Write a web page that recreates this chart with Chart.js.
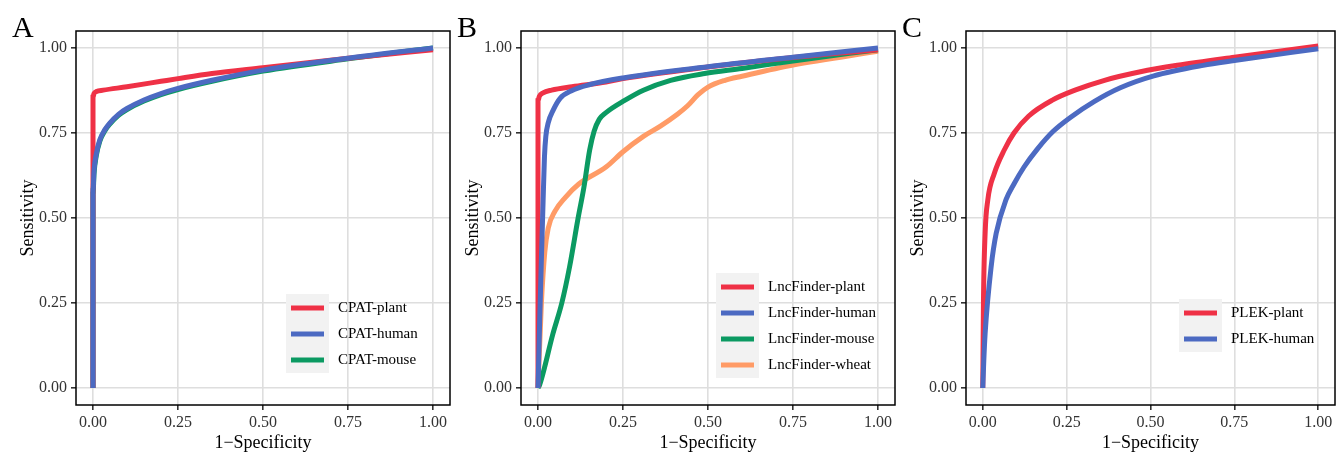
<!DOCTYPE html>
<html>
<head>
<meta charset="utf-8">
<script src="https://cdn.jsdelivr.net/npm/chart.js@4"></script>
<style>
  html, body { margin: 0; padding: 0; background: #fff; overflow: hidden; }
  .panel { position: absolute; top: 0; }
</style>
</head>
<body>
<div class="panel" style="left:0px"><canvas id="chartA" width="455" height="454"></canvas></div>
<div class="panel" style="left:445px"><canvas id="chartB" width="455" height="454"></canvas></div>
<div class="panel" style="left:890px"><canvas id="chartC" width="446" height="454"></canvas></div>
<script>
// tick labels shared by both axes of every panel
const tickValues = [0, 0.25, 0.5, 0.75, 1];
const xTitle = '1\u2212Specificity';
const yTitle = 'Sensitivity';

// colours
const RED = '#EF3146';
const BLUE = '#4C6AC2';
const GREEN = '#0B9A62';
const ORANGE = '#FF9B66';

// panel A - CPAT  (1-specificity, sensitivity)
const cpatPlantFpr = [0, 0, 0, 0.003, 0.01, 0.03, 0.1, 0.2, 0.25, 0.35, 0.5, 0.75, 1];
const cpatPlantTpr = [0, 0.6, 0.855, 0.866, 0.872, 0.876, 0.886, 0.902, 0.91, 0.925, 0.942, 0.97, 0.995];
const cpatHumanFpr = [0, 0, 0.003, 0.01, 0.02, 0.035, 0.05, 0.075, 0.1, 0.15, 0.2, 0.25, 0.35, 0.5, 0.75, 1];
const cpatHumanTpr = [0, 0.58, 0.64, 0.69, 0.73, 0.76, 0.78, 0.805, 0.822, 0.847, 0.866, 0.881, 0.905, 0.935, 0.97, 1.0];
const cpatMouseFpr = [0, 0, 0.003, 0.01, 0.02, 0.035, 0.05, 0.075, 0.1, 0.15, 0.2, 0.25, 0.35, 0.5, 0.75, 1];
const cpatMouseTpr = [0, 0.57, 0.63, 0.685, 0.726, 0.757, 0.777, 0.802, 0.819, 0.844, 0.863, 0.878, 0.902, 0.932, 0.968, 1.0];

// panel B - LncFinder
const lncPlantFpr = [0, 0, 0, 0.004, 0.015, 0.04, 0.1, 0.2, 0.25, 0.5, 0.75, 1];
const lncPlantTpr = [0, 0.5, 0.845, 0.858, 0.868, 0.876, 0.886, 0.9, 0.91, 0.944, 0.972, 0.995];
const lncHumanFpr = [0, 0.005, 0.01, 0.015, 0.019, 0.023, 0.03, 0.045, 0.065, 0.1, 0.15, 0.25, 0.5, 0.75, 1];
const lncHumanTpr = [0, 0.2, 0.38, 0.55, 0.68, 0.74, 0.78, 0.818, 0.852, 0.875, 0.892, 0.912, 0.945, 0.973, 1.0];
const lncMouseFpr = [0, 0.005, 0.044, 0.07, 0.093, 0.118, 0.135, 0.152, 0.165, 0.18, 0.2, 0.255, 0.31, 0.39, 0.49, 0.6, 0.75, 1];
const lncMouseTpr = [0, 0.01, 0.16, 0.25, 0.357, 0.5, 0.59, 0.7, 0.755, 0.79, 0.81, 0.846, 0.876, 0.905, 0.925, 0.94, 0.962, 0.995];
const lncWheatFpr = [0, 0.01, 0.02, 0.03, 0.05, 0.08, 0.12, 0.2, 0.25, 0.31, 0.36, 0.41, 0.44, 0.47, 0.5, 0.55, 0.6, 0.75, 1];
const lncWheatTpr = [0, 0.25, 0.4, 0.47, 0.52, 0.56, 0.6, 0.65, 0.695, 0.74, 0.77, 0.805, 0.83, 0.862, 0.885, 0.905, 0.917, 0.95, 0.99];

// panel C - PLEK
const plekPlantFpr = [0, 0.002, 0.007, 0.015, 0.034, 0.064, 0.093, 0.137, 0.206, 0.275, 0.363, 0.47, 0.58, 0.75, 1];
const plekPlantTpr = [0, 0.25, 0.455, 0.553, 0.63, 0.7, 0.75, 0.8, 0.846, 0.876, 0.905, 0.93, 0.949, 0.973, 1.006];
const plekHumanFpr = [0, 0.003, 0.007, 0.025, 0.04, 0.069, 0.093, 0.123, 0.162, 0.21, 0.26, 0.333, 0.41, 0.51, 0.657, 0.75, 1];
const plekHumanTpr = [0, 0.08, 0.16, 0.357, 0.455, 0.553, 0.6, 0.65, 0.702, 0.755, 0.795, 0.843, 0.883, 0.918, 0.949, 0.963, 0.998];

function toPoints(xs, ys) {
    return xs.map((x, i) => ({ x: x, y: ys[i] }));
}

// frame around the plot area + panel letter + ggplot-like legend
const panelDeco = {
    id: 'panelDeco',
    afterDatasetsDraw(chart, args, opts) {
        const ctx = chart.ctx;
        const a = chart.chartArea;
        ctx.save();
        // legend
        const items = opts.items;
        const lx = a.left + opts.legendX;
        const ly = a.top + opts.legendY;
        const gap = 26;
        ctx.fillStyle = '#F2F2F2';
        ctx.fillRect(lx - 5, ly - 14, 43, (items.length - 1) * gap + 27);
        items.forEach((it, i) => {
            const y = ly + i * gap;
            ctx.strokeStyle = it.color;
            ctx.lineWidth = 5;
            ctx.beginPath();
            ctx.moveTo(lx, y);
            ctx.lineTo(lx + 33, y);
            ctx.stroke();
            ctx.fillStyle = '#000';
            ctx.font = '15px "Liberation Serif", "Times New Roman", serif';
            ctx.textBaseline = 'middle';
            ctx.textAlign = 'left';
            ctx.fillText(it.label, lx + 47, y);
        });
        // frame
        ctx.strokeStyle = '#000';
        ctx.lineWidth = 1.5;
        ctx.strokeRect(a.left, a.top, a.right - a.left, a.bottom - a.top);
        // panel letter
        ctx.fillStyle = '#000';
        ctx.font = '30px "Liberation Serif", "Times New Roman", serif';
        ctx.textBaseline = 'alphabetic';
        ctx.fillText(opts.tag, 12, 37);
        ctx.restore();
    }
};

function makeAxis(title, isX) {
    return {
        type: 'linear',
        min: -0.05,
        max: 1.05,
        afterBuildTicks: axis => { axis.ticks = tickValues.map(v => ({ value: v })); },
        afterFit: axis => {
            if (isX) axis.height = 49; else axis.width = 76;
        },
        grid: {
            color: '#DEDEDE',
            lineWidth: 1.6,
            tickColor: '#333',
            tickLength: 5,
            drawTicks: true
        },
        border: { display: false },
        ticks: {
            color: '#333',
            padding: isX ? 3 : 4,
            font: { family: '"Liberation Serif", "Times New Roman", serif', size: 16 },
            callback: v => v.toFixed(2)
        },
        title: {
            display: true,
            text: title,
            color: '#000',
            font: { family: '"Liberation Serif", "Times New Roman", serif', size: 18 },
            padding: isX ? { top: 0, bottom: 0 } : { top: 17, bottom: 0 }
        }
    };
}

function generateChart(id, tag, datasets, legendX, legendY, padRight) {
    const ctx = document.getElementById(id).getContext('2d');
    return new Chart(ctx, {
        type: 'line',
        data: {
            datasets: datasets.map(d => ({
                label: d.label,
                data: d.data,
                borderColor: d.color,
                backgroundColor: d.color,
                borderWidth: 5,
                pointRadius: 0,
                cubicInterpolationMode: 'monotone',
                borderCapStyle: 'butt',
                order: d.order
            }))
        },
        options: {
            responsive: false,
            animation: false,
            devicePixelRatio: 1,
            layout: { padding: { left: 0, top: 31, right: padRight, bottom: 0 } },
            scales: {
                x: makeAxis(xTitle, true),
                y: makeAxis(yTitle, false)
            },
            plugins: {
                legend: { display: false },
                tooltip: { enabled: false },
                panelDeco: {
                    tag: tag,
                    legendX: legendX,
                    legendY: legendY,
                    items: datasets.map(d => ({ label: d.label, color: d.color }))
                }
            }
        },
        plugins: [panelDeco]
    });
}

generateChart('chartA', 'A', [
    { label: 'CPAT-plant', data: toPoints(cpatPlantFpr, cpatPlantTpr), color: RED, order: 1 },
    { label: 'CPAT-human', data: toPoints(cpatHumanFpr, cpatHumanTpr), color: BLUE, order: 0 },
    { label: 'CPAT-mouse', data: toPoints(cpatMouseFpr, cpatMouseTpr), color: GREEN, order: 2 }
], 215, 277, 5);

generateChart('chartB', 'B', [
    { label: 'LncFinder-plant', data: toPoints(lncPlantFpr, lncPlantTpr), color: RED, order: 1 },
    { label: 'LncFinder-human', data: toPoints(lncHumanFpr, lncHumanTpr), color: BLUE, order: 0 },
    { label: 'LncFinder-mouse', data: toPoints(lncMouseFpr, lncMouseTpr), color: GREEN, order: 2 },
    { label: 'LncFinder-wheat', data: toPoints(lncWheatFpr, lncWheatTpr), color: ORANGE, order: 3 }
], 200, 256, 5);

generateChart('chartC', 'C', [
    { label: 'PLEK-plant', data: toPoints(plekPlantFpr, plekPlantTpr), color: RED, order: 1 },
    { label: 'PLEK-human', data: toPoints(plekHumanFpr, plekHumanTpr), color: BLUE, order: 0 }
], 218, 282, 1);
</script>
</body>
</html>
